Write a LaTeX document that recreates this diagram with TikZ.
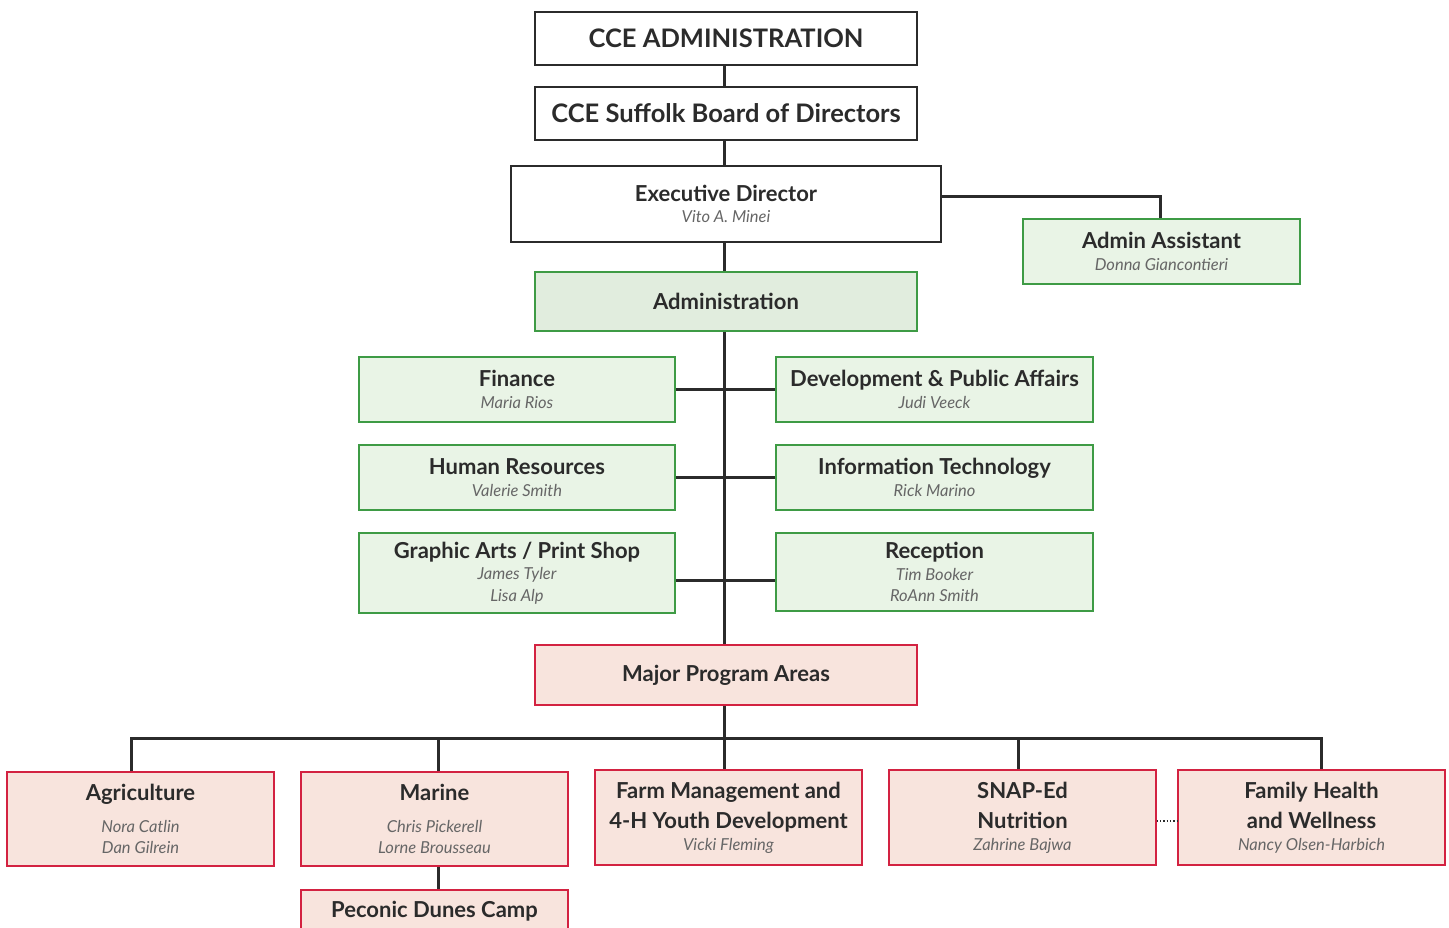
\documentclass[tikz,border=0pt]{standalone}
\usepackage{fontspec}
\setmainfont{Lato}
\definecolor{dk}{HTML}{2B2B2B}
\definecolor{grn}{HTML}{3E9B45}
\definecolor{gfill}{HTML}{E9F4E6}
\definecolor{afill}{HTML}{E1EDDE}
\definecolor{redb}{HTML}{D32241}
\definecolor{rfill}{HTML}{F8E4DD}
\definecolor{nmgray}{HTML}{666666}
\newcommand\hd[1]{{\fontsize{22}{22}\selectfont\bfseries #1}}
\newcommand\bg[1]{{\fontsize{25.5}{26}\selectfont\bfseries #1}}
\newcommand\nm[1]{{\itshape\color{nmgray}#1}}
\begin{document}
\begin{tikzpicture}[x=1pt,y=-1pt,
  box/.style={draw=dk, line width=1.5pt, fill=white, align=center, inner sep=0pt,
    font=\fontsize{16.5}{21.5}\selectfont, text=dk},
  gbox/.style={box, draw=grn, fill=gfill},
  rbox/.style={box, draw=redb, fill=rfill},
  con/.style={draw=dk, line width=3pt}]
\fill[white] (0,0) rectangle (1449,927);
\useasboundingbox (0,0) rectangle (1449,927);
% top chain
\node[box, minimum width=382pt, minimum height=53pt] (top) at (726,38.5) {\bg{CCE ADMINISTRATION}};
\node[box, minimum width=382pt, minimum height=53pt] (board) at (726,113.5) {\bg{CCE Suffolk Board of Directors}};
\node[box, minimum width=430pt, minimum height=76pt] (exec) at (726,204) {\hd{Executive Director}\\\nm{Vito A. Minei}};
\node[gbox, minimum width=277pt, minimum height=65pt] (asst) at (1161.5,251.5) {\hd{Admin Assistant}\\\nm{Donna Giancontieri}};
\node[gbox, fill=afill, minimum width=382pt, minimum height=59pt] (admin) at (726,301.5) {\hd{Administration}};
% admin departments
\node[gbox, minimum width=316pt, minimum height=65pt] (fin) at (517,389.5) {\hd{Finance}\\\nm{Maria Rios}};
\node[gbox, minimum width=317pt, minimum height=65pt] (dev) at (934.5,389.5) {\hd{Development \& Public Affairs}\\\nm{Judi Veeck}};
\node[gbox, minimum width=316pt, minimum height=65pt] (hr) at (517,477.5) {\hd{Human Resources}\\\nm{Valerie Smith}};
\node[gbox, minimum width=317pt, minimum height=65pt] (it) at (934.5,477.5) {\hd{Information Technology}\\\nm{Rick Marino}};
\node[gbox, minimum width=316pt, minimum height=80pt] (ga) at (517,573) {\hd{Graphic Arts / Print Shop}\\\nm{James Tyler}\\\nm{Lisa Alp}};
\node[gbox, minimum width=317pt, minimum height=78pt] (rec) at (934.5,572) {\hd{Reception}\\\nm{Tim Booker}\\\nm{RoAnn Smith}};
% program areas
\node[rbox, minimum width=382pt, minimum height=60pt] (mpa) at (726,675) {\hd{Major Program Areas}};
\node[rbox, minimum width=267pt, minimum height=94pt] (agr) at (140.5,819) {\hd{Agriculture}\\[10pt]\nm{Nora Catlin}\\\nm{Dan Gilrein}};
\node[rbox, minimum width=267pt, minimum height=94pt] (mar) at (434.5,819) {\hd{Marine}\\[10pt]\nm{Chris Pickerell}\\\nm{Lorne Brousseau}};
\node[rbox, minimum width=267pt, minimum height=95pt] (farm) at (728.5,817.5) {\hd{Farm Management and}\\[9pt]\hd{4-H Youth Development}\\\nm{Vicki Fleming}};
\node[rbox, minimum width=267pt, minimum height=95pt] (snap) at (1022.5,817.5) {\hd{SNAP-Ed}\\[9pt]\hd{Nutrition}\\\nm{Zahrine Bajwa}};
\node[rbox, minimum width=267pt, minimum height=95pt] (fam) at (1311.5,817.5) {\hd{Family Health}\\[9pt]\hd{and Wellness}\\\nm{Nancy Olsen-Harbich}};
\node[rbox, minimum width=267pt, minimum height=42pt] (pec) at (434.5,911) {\hd{Peconic Dunes Camp}};
\coordinate (bus) at (724,738);
% connectors
\draw[con] ([xshift=-2pt]top.south) -- ([xshift=-2pt]board.north);
\draw[con] ([xshift=-2pt]board.south) -- ([xshift=-2pt]exec.north);
\draw[con] ([xshift=-2pt]exec.south) -- ([xshift=-2pt]admin.north);
\draw[con] ([yshift=8pt]exec.east) -| ([xshift=-1.5pt]asst.north);
\draw[con] ([xshift=-2pt]admin.south) -- ([xshift=-2pt]mpa.north);
\draw[con] (fin.east) -- (dev.west);
\draw[con] (hr.east) -- (it.west);
\draw[con] ([yshift=-7pt]ga.east) -- ([yshift=-8pt]rec.west);
\draw[con] ([xshift=-2pt]mpa.south) -- (bus);
\draw[con] ([xshift=-9.5pt]agr.north) |- (bus) -| ([xshift=9.5pt]fam.north);
\draw[con] ([xshift=3.5pt]mar.north) -- ++(0,-34);
\draw[con] ([xshift=-4.5pt]farm.north) -- (bus);
\draw[con] ([xshift=-4.5pt]snap.north) -- ++(0,-32);
\draw[con] ([xshift=3.5pt]mar.south) -- ([xshift=3.5pt]pec.north);
\draw[dk, dotted, line width=1.3pt] ([yshift=-3.5pt]snap.east) -- ([yshift=-3.5pt]fam.west);
\end{tikzpicture}
\end{document}
